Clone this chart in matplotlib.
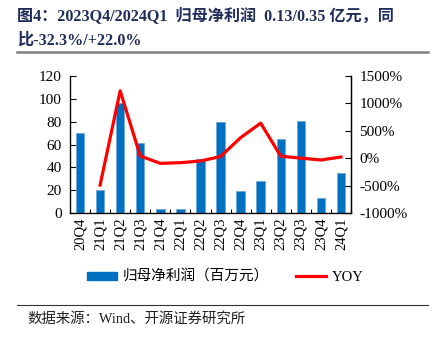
import matplotlib
matplotlib.use("Agg")
import matplotlib.pyplot as plt
import numpy as np
from matplotlib.lines import Line2D
from matplotlib.patches import Patch

categories = ["20Q4", "21Q1", "21Q2", "21Q3", "21Q4", "22Q1", "22Q2",
              "22Q3", "22Q4", "23Q1", "23Q2", "23Q3", "23Q4", "24Q1"]
profit = [70, 20, 96, 61, 3.5, 3.5, 47, 80, 19, 28, 64.5, 81, 13, 35]
yoy_pct = [None, -490, 1230, 40, -94, -82, -51, 30, 375, 640, 37, 1, -32.3, 22.0]

left_ticks = [0, 20, 40, 60, 80, 100, 120]
right_ticks = [-1000, -500, 0, 500, 1000, 1500]

FONT = ["Liberation Serif", "Noto Sans CJK SC"]
plt.rcParams["font.family"] = FONT

fig = plt.figure(figsize=(4.36, 3.37), dpi=100)
ax = fig.add_axes([70 / 436, 1 - 213 / 337, 281 / 436, 137 / 337])

x = np.arange(len(categories))
ax.bar(x, profit, width=0.42, color="#0070C0", edgecolor="#6FA8DC",
       linewidth=0.6, zorder=2)
ax.set_xlim(-0.5, len(categories) - 0.5)
ax.set_ylim(0, 120)
ax.set_yticks(left_ticks)
ax.set_yticklabels([str(t) for t in left_ticks], fontsize=11)
ax.set_xticks(x)
ax.set_xticklabels(categories, rotation=90, fontsize=10.5)
ax.set_xticks(np.arange(len(categories) + 1) - 0.5, minor=True)
ax.tick_params(axis="x", which="major", length=0, pad=3)
ax.tick_params(axis="x", which="minor", direction="in", length=3, width=0.8)
ax.tick_params(axis="y", direction="in", length=4, width=0.8, pad=6)
ax.spines["top"].set_visible(False)
for s in ["left", "bottom", "right"]:
    ax.spines[s].set_linewidth(0.9)

ax2 = ax.twinx()
yx = [i for i, v in enumerate(yoy_pct) if v is not None]
yv = [v for v in yoy_pct if v is not None]
ax2.plot(yx, yv, color="#FF0000", linewidth=2.3, zorder=3)
ax2.set_ylim(-1000, 1500)
ax2.set_yticks(right_ticks)
ax2.set_yticklabels([f"{t}%" for t in right_ticks], fontsize=11)
ax2.tick_params(axis="y", direction="in", length=4, width=0.8, pad=6)
ax2.spines["top"].set_visible(False)
ax2.spines["right"].set_linewidth(0.9)

# Title
fig.text(17 / 436, 1 - 16 / 337, "图4：2023Q4/2024Q1  归母净利润  0.13/0.35 亿元，同",
         fontsize=11.6, fontweight="bold", color="#1F2D5A", ha="left", va="center")
fig.text(17 / 436, 1 - 41 / 337, "比-32.3%/+22.0%",
         fontsize=11.6, fontweight="bold", color="#1F2D5A", ha="left", va="center")
fig.add_artist(Line2D([17 / 436, 428 / 436], [1 - 52 / 337, 1 - 52 / 337],
                      color="#808080", linewidth=1.8))

# Legend
handles = [Patch(facecolor="#0070C0", edgecolor="#0070C0"),
           Line2D([], [], color="#FF0000", linewidth=2.3)]
fig.legend(handles, ["归母净利润（百万元）", "YOY"], loc="center",
           bbox_to_anchor=(225 / 436, 1 - 277 / 337), ncol=2, frameon=False,
           fontsize=10.5, handlelength=2.1, handleheight=0.45,
           columnspacing=1.85, handletextpad=0.35)

# Source line
fig.add_artist(Line2D([17 / 436, 428 / 436], [1 - 305 / 337, 1 - 305 / 337],
                      color="#333333", linewidth=0.8))
fig.text(27 / 436, 1 - 319 / 337, "数据来源：Wind、开源证券研究所",
         fontsize=10.4, color="#222222", ha="left", va="center")

fig.savefig("out.png", dpi=100)
